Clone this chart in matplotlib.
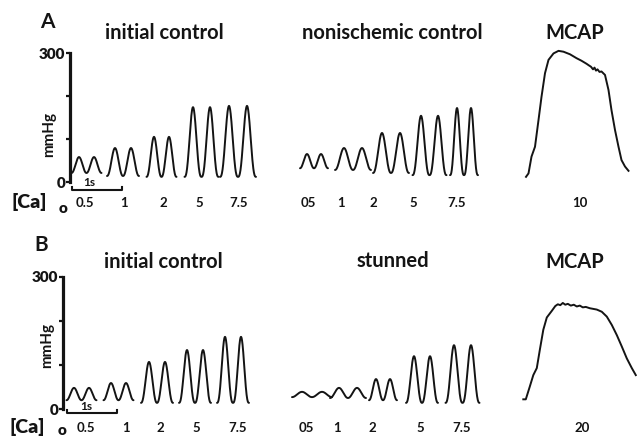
import numpy as np
import matplotlib
matplotlib.use("Agg")
import matplotlib.pyplot as plt

W, H, DPI = 637, 436, 100
PX_PER_S = 50.0          # chart-paper speed: 1 s = 50 px
INK = "#141414"
FONT = ["Lato", "DejaVu Sans"]

# ---- data ---------------------------------------------------------------
ca_levels = ["0.5", "1", "2", "5", "7.5"]
ca_levels_plain = ["05", "1", "2", "5", "7.5"]

# peak systolic / diastolic (trough) pressure, mmHg, per [Ca]o step
a_initial_peak = [58, 79, 105, 174, 177]
a_initial_trough = [21, 14, 12, 12, 12]
a_nonisch_peak = [65, 79, 114, 154, 172]
a_nonisch_trough = [32, 28, 21, 16, 16]
b_initial_peak = [48, 59, 107, 134, 164]
b_initial_trough = [20, 20, 14, 14, 14]
b_stunned_peak = [39, 48, 68, 120, 145]
b_stunned_trough = [27, 25, 20, 14, 14]

# beat interval (s) within each two-beat sample
a_initial_rr = [0.30, 0.32, 0.30, 0.34, 0.36]
a_nonisch_rr = [0.28, 0.36, 0.36, 0.34, 0.28]
b_initial_rr = [0.30, 0.30, 0.32, 0.32, 0.32]
b_stunned_rr = [0.40, 0.36, 0.28, 0.32, 0.34]

# maximal Ca-activated pressure traces (time from onset, s; pressure, mmHg)
mcap_a_label = "10"
mcap_a_t = [0.00, 0.05, 0.11, 0.18, 0.25, 0.31, 0.38, 0.45, 0.55, 0.65, 0.75,
            0.88, 1.01, 1.11, 1.21, 1.26, 1.30, 1.34, 1.37, 1.40, 1.43, 1.47,
            1.51, 1.58, 1.65, 1.71, 1.78, 1.85, 1.91, 1.98, 2.05]
mcap_a_p = [12, 20, 59, 82, 144, 198, 253, 284, 299, 305, 303,
            297, 288, 282, 275, 271, 268, 262, 266, 259, 262, 256,
            257, 249, 214, 167, 121, 82, 51, 36, 26]

mcap_b_label = "20"
mcap_b_t = [0.00, 0.05, 0.13, 0.20, 0.27, 0.33, 0.40, 0.47, 0.57, 0.64, 0.69,
            0.74, 0.79, 0.84, 0.89, 0.95, 1.01, 1.07, 1.13, 1.19, 1.25, 1.33,
            1.47, 1.57, 1.67, 1.77, 1.87, 1.97, 2.07, 2.17, 2.25]
mcap_b_p = [22, 22, 51, 77, 93, 134, 180, 208, 223, 234, 238,
            236, 241, 237, 239, 235, 237, 233, 235, 231, 232, 229,
            226, 221, 210, 191, 168, 142, 115, 93, 77]

# ---- layout (pixels of the output image) -------------------------------
def fx(px):
    return px / W

def fy(py):
    return 1.0 - py / H

rows = [
    dict(axis_x=70, y0=182, y300=53, letter="A", letter_xy=(47, 22),
         titles=[("initial control", 164, 33), ("nonischemic control", 392, 33),
                 ("MCAP", 575, 33)],
         panels=[
             dict(centers=[0.33, 1.06, 1.83, 2.63, 3.36], peak=a_initial_peak,
                  trough=a_initial_trough, rr=a_initial_rr, labels=ca_levels,
                  label_x=[85, 124, 163, 199, 239]),
             dict(centers=[4.88, 5.66, 6.42, 7.19, 7.88], peak=a_nonisch_peak,
                  trough=a_nonisch_trough, rr=a_nonisch_rr, labels=ca_levels_plain,
                  label_x=[308, 341, 373, 413, 457]),
         ],
         mcap=(9.12, mcap_a_t, mcap_a_p, mcap_a_label, 580),
         label_y=203, ca_xy=(29, 202), sub_xy=(63, 208),
         bar=(0.04, 190, 187), bar_text=(89, 182), mm_xy=(49, 134)),
    dict(axis_x=63, y0=409, y300=277, letter="B", letter_xy=(41, 245),
         titles=[("initial control", 163, 262), ("stunned", 393, 261),
                 ("MCAP", 575, 262)],
         panels=[
             dict(centers=[0.37, 1.11, 1.88, 2.64, 3.40], peak=b_initial_peak,
                  trough=b_initial_trough, rr=b_initial_rr, labels=ca_levels,
                  label_x=[86, 126, 160, 196, 238]),
             dict(centers=[4.98, 5.70, 6.40, 7.18, 7.99], peak=b_stunned_peak,
                  trough=b_stunned_trough, rr=b_stunned_rr, labels=ca_levels_plain,
                  label_x=[306, 337, 372, 420, 462]),
         ],
         mcap=(9.206, mcap_b_t, mcap_b_p, mcap_b_label, 582),
         label_y=428, ca_xy=(27, 427), sub_xy=(62, 430),
         bar=(0.08, 413, 410), bar_text=(86, 406), mm_xy=(47, 345)),
]


def two_beats(center, rr, peak, trough, n=240):
    """Two pressure pulses, peaks at center +/- rr/2, diastole at the ends."""
    t = np.linspace(center - rr, center + rr, n)
    k = 1.0 + min(0.35, (peak - trough) / 450.0)
    shape = ((1.0 - np.cos(2 * np.pi * (t - center) / rr)) / 2.0) ** k
    return t, trough + (peak - trough) * shape


fig = plt.figure(figsize=(W / DPI, H / DPI), dpi=DPI)
fig.patch.set_facecolor("white")

for row in rows:
    ax_x, y0, y300 = row["axis_x"], row["y0"], row["y300"]
    ax = fig.add_axes([fx(ax_x), fy(y0), fx(W - ax_x), (y0 - y300) / H])
    ax.set_xlim(0, (W - ax_x) / PX_PER_S)
    ax.set_ylim(0, 300)
    ax.patch.set_alpha(0)
    for side in ("top", "right", "bottom"):
        ax.spines[side].set_visible(False)
    ax.spines["left"].set_linewidth(2.3)
    ax.spines["left"].set_color(INK)
    ax.set_xticks([])
    ax.set_yticks([0, 100, 200, 300])
    ax.set_yticklabels(["0", "", "", "300"])
    ax.tick_params(axis="y", direction="out", length=3, width=1.6, color=INK,
                   pad=0.5, labelsize=11)
    for lab in ax.get_yticklabels():
        lab.set_fontweight("heavy")
        lab.set_family(FONT)
        lab.set_color(INK)

    # paced contractions at each calcium step
    for panel in row["panels"]:
        for c, rr, pk, tr in zip(panel["centers"], panel["rr"],
                                 panel["peak"], panel["trough"]):
            t, p = two_beats(c, rr, pk, tr)
            ax.plot(t, p, color=INK, lw=1.4, clip_on=False,
                    solid_capstyle="round")
        for lab, lx in zip(panel["labels"], panel["label_x"]):
            fig.text(fx(lx), fy(row["label_y"]), lab, ha="center", va="center",
                     fontsize=9.5, fontweight="bold", family=FONT, color=INK)

    # maximal Ca-activated pressure
    t0, mt, mp, mlab, mlx = row["mcap"]
    ax.plot(t0 + np.asarray(mt), mp, color=INK, lw=1.4, clip_on=False,
            solid_joinstyle="round")
    fig.text(fx(mlx), fy(row["label_y"]), mlab, ha="center", va="center",
             fontsize=9.5, fontweight="bold", family=FONT, color=INK)

    # 1 s time-scale bar below the baseline
    bx, by, bend = row["bar"]
    mm_per_px = 300.0 / (y0 - y300)
    yb = (y0 - by) * mm_per_px
    ye = (y0 - bend) * mm_per_px
    ax.plot([bx, bx, bx + 1.0, bx + 1.0], [ye, yb, yb, ye], color=INK,
            lw=1.5, clip_on=False)
    fig.text(fx(row["bar_text"][0]), fy(row["bar_text"][1]), "1s",
             ha="center", va="center", fontsize=8.5, fontweight="bold",
             family=FONT, color=INK)

    # axis title, panel letter, section titles
    fig.text(fx(row["mm_xy"][0]), fy(row["mm_xy"][1]), "mmHg", rotation=90,
             ha="center", va="center", fontsize=11, fontweight="bold",
             family=FONT, color=INK)
    fig.text(fx(row["letter_xy"][0]), fy(row["letter_xy"][1]), row["letter"],
             ha="center", va="center", fontsize=15, fontweight="bold",
             family=FONT, color=INK)
    for title, tx, ty in row["titles"]:
        fig.text(fx(tx), fy(ty), title, ha="center", va="center", fontsize=14.5,
                 fontweight="bold", family=FONT, color=INK)
    fig.text(fx(row["ca_xy"][0]), fy(row["ca_xy"][1]), "[Ca]", ha="center",
             va="center", fontsize=14, fontweight="heavy", family=FONT,
             color=INK)
    fig.text(fx(row["sub_xy"][0]), fy(row["sub_xy"][1]), "o", ha="center",
             va="center", fontsize=11, fontweight="heavy", family=FONT,
             color=INK)

fig.savefig("out.png", dpi=DPI, facecolor="white")
